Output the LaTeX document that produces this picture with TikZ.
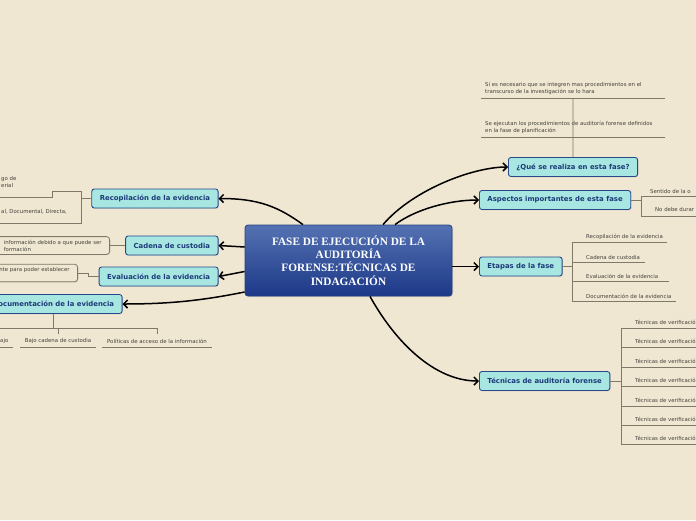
\documentclass[tikz,border=0pt]{standalone}
\usepackage{fontspec}
\setmainfont{DejaVu Sans}
\newfontfamily\titulofont{Liberation Serif}
\usetikzlibrary{arrows.meta, positioning, shadows}

\definecolor{fondo}{RGB}{239,231,210}
\definecolor{temaRelleno}{RGB}{168,230,226}
\definecolor{temaBorde}{RGB}{40,72,140}
\definecolor{temaTexto}{RGB}{28,58,120}
\definecolor{centroArriba}{RGB}{84,114,178}
\definecolor{centroAbajo}{RGB}{28,56,136}
\definecolor{centroBorde}{RGB}{36,64,130}
\definecolor{hojaLinea}{RGB}{128,120,104}
\definecolor{hojaTexto}{RGB}{70,66,60}

\begin{document}
\begin{tikzpicture}[x=1pt,y=-1pt]

	% Stile
	\tikzset{
		centro/.style={draw=centroBorde, line width=0.8pt, top color=centroArriba, bottom color=centroAbajo,
			rounded corners=3pt, minimum width=207pt, minimum height=71pt, align=center, text=white,
			font=\titulofont\bfseries\fontsize{11.3pt}{13.4pt}\selectfont,
			drop shadow={opacity=0.25, shadow xshift=1pt, shadow yshift=-1pt}},
		tema/.style={draw=temaBorde, fill=temaRelleno, line width=0.9pt, rounded corners=2.5pt,
			text=temaTexto, font=\fontsize{6.9pt}{8pt}\selectfont\bfseries, minimum height=19pt, inner xsep=8pt,
			drop shadow={opacity=0.2, shadow xshift=0.8pt, shadow yshift=-0.8pt}},
		hoja/.style={text=hojaTexto, font=\fontsize{5.4pt}{7pt}\selectfont, inner sep=0pt, align=left},
		caja/.style={hoja, draw=hojaLinea, fill=fondo, line width=0.8pt, rounded corners=3pt,
			inner xsep=8pt, inner ysep=3.2pt,
			drop shadow={opacity=0.2, shadow xshift=0.8pt, shadow yshift=-0.8pt}},
		linea/.style={draw=hojaLinea, line width=0.8pt},
		rama/.style={line width=1.5pt, -{Straight Barb[length=4pt, width=8pt]}}
	}

	% Hintergrund
	\useasboundingbox (0,0) rectangle (696,520);
	\fill[fondo] (0,0) rectangle (696,520);

	% Zentrum
	\node[centro] (c) at (348.5,260.5) {FASE DE EJECUCIÓN DE LA\\AUDITORÍA\\FORENSE:TÉCNICAS DE\\INDAGACIÓN};

	% Themen
	\node[tema, anchor=east] (rec) at (218.5,198.5) {Recopilación de la evidencia};
	\node[tema, anchor=east] (cad) at (218.5,245.5) {Cadena de custodia};
	\node[tema, anchor=east] (eva) at (218.5,276.5) {Evaluación de la evidencia};
	\node[tema, anchor=east] (doc) at (122.5,304) {Documentación de la evidencia};
	\node[tema, anchor=west] (que) at (508,167) {¿Qué se realiza en esta fase?};
	\node[tema, anchor=west] (asp) at (479,200) {Aspectos importantes de esta fase};
	\node[tema, anchor=west] (eta) at (479,266.5) {Etapas de la fase};
	\node[tema, anchor=west] (tec) at (479,381) {Técnicas de auditoría forense};

	% Äste
	\draw[rama] ([xshift=-45.5pt]c.north) .. controls +(-25,-18) and +(40,0) .. (rec.east);
	\draw[rama] ([yshift=13.5pt]c.west) -- (cad.east);
	\draw[rama] ([yshift=-11pt]c.west) -- (eva.east);
	\draw[rama] ([yshift=-31.5pt]c.west) .. controls +(-40,8) and +(50,0) .. (doc.east);
	\draw[rama] ([xshift=34.5pt]c.north) .. controls +(30,-35) and +(-35,0) .. (que.west);
	\draw[rama] ([xshift=46.5pt]c.north) .. controls +(20,-15) and +(-30,0) .. (asp.west);
	\draw[rama] ([yshift=-6pt]c.east) -- (eta.west);
	\draw[rama] ([xshift=21.5pt]c.south) .. controls +(25,45) and +(-45,0) .. (tec.west);

	% ¿Qué se realiza?
	\node[hoja, anchor=west] (q1) at (485,88.5) {Si es necesario que se integren mas procedimientos en el\\transcurso de la investigación se lo hara};
	\node[hoja, anchor=west] (q2) at (485,127.5) {Se ejecutan los procedimientos de auditoría forense definidos\\en la fase de planificación};
	\draw[linea] (481,98) -- (665,98);
	\draw[linea] (481,137) -- (665,137);
	\coordinate (q1b) at (573,98);
	\draw[linea] (que.north) -- (q1b);

	% Aspectos
	\node[hoja, anchor=west] (a1) at (650,191) {Sentido de la o};
	\node[hoja, anchor=west] (a2) at (655,209.5) {No debe durar};
	\draw[linea] (asp.east) -- (641,200);
	\draw[linea] (700,196) -- (641,196) -- (641,216) -- (700,216);

	% Etapas
	\foreach \y/\x/\t [count=\i] in {242/667/Recopilación de la evidencia, 262/645/Cadena de custodia,
		281.5/669/Evaluación de la evidencia, 301.5/676/Documentación de la evidencia} {
		\node[hoja, anchor=west] (e\i) at (586,\y-5) {\t};
		\draw[linea] (572,\y) -- (\x,\y);
	}
	\draw[linea] (572,242) -- (572,301.5);
	\draw[linea] (eta.east) -- (572,266.5);

	% Técnicas
	\foreach \i in {0,...,6} {
		\node[hoja, anchor=west] (t\i) at (635,322.3+19.4*\i) {Técnicas de verificación};
		\draw[linea] (621,328.3+19.4*\i) -- (700,328.3+19.4*\i);
	}
	\draw[linea] (621,328.3) -- (621,444.7);
	\draw[linea] (tec.east) -- (621,381);

	% Recopilación
	\node[hoja, anchor=west] (r1) at (1,182) {go de\\erial};
	\node[hoja, anchor=west] (r2) at (1,211.5) {al, Documental, Directa,};
	\draw[linea] (rec.west) -- (81,198.5);
	\draw[linea] (-5,197) -- (52,197) -- (52,191) -- (81,191) -- (81,223) -- (-5,223);

	% Cadena
	\node[caja, anchor=east] (hcad) at (110,245.5) {información debido a que puede ser\\formación};
	\draw[linea] (hcad.east) -- (cad.west);

	% Evaluación
	\node[caja, anchor=east] (heva) at (78,273) {nte para poder establecer\\\phantom{x}};
	\draw[linea] (heva.east) -- ++(10,0) |- (eva.west);

	% Documentación
	\node[hoja, anchor=west] (d1) at (0,341) {ajo};
	\node[hoja] (d2) at (58,341) {Bajo cadena de custodia};
	\node[hoja] (d3) at (157,341) {Políticas de acceso de la información};
	\draw[linea] (doc.south) -- (doc.south |- 0,328);
	\draw[linea] (-5,328) -- (157,328);
	\draw[linea] (58,328) -- (58,334);
	\draw[linea] (157,328) -- (157,334);
	\draw[linea] (-5,347) -- (13,347);
	\draw[linea] (20,347) -- (96,347);
	\draw[linea] (102,347) -- (212,347);

\end{tikzpicture}
\end{document}
